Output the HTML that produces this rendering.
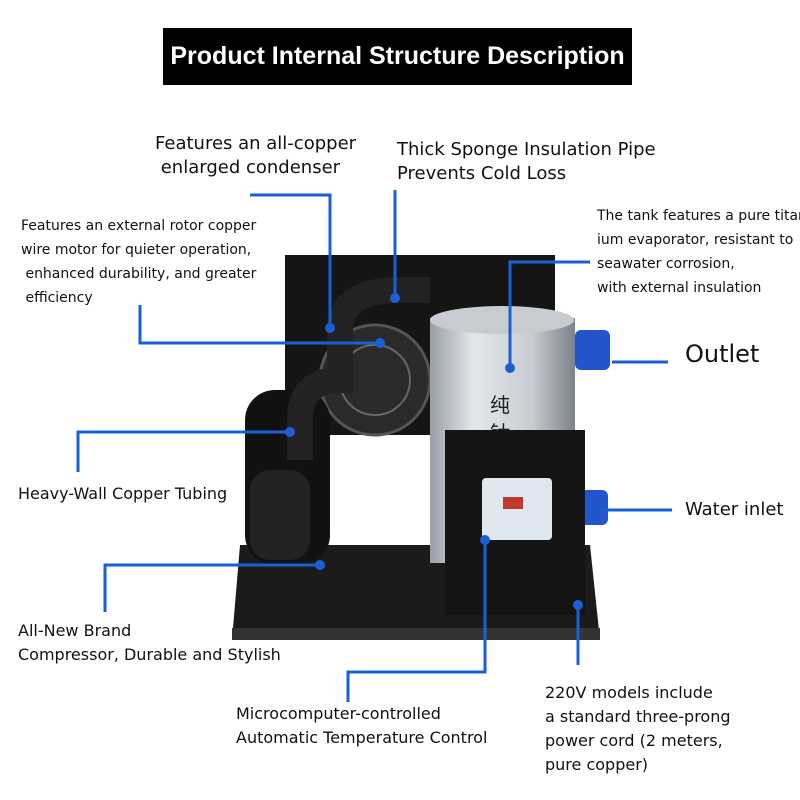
<!DOCTYPE html>
<html><head><meta charset="utf-8"><style>
body{margin:0;width:800px;height:800px;background:#fff;position:relative;overflow:hidden;font-family:"DejaVu Sans","Noto Sans CJK SC",sans-serif;}
.t{position:absolute;color:#111;white-space:nowrap}
svg{position:absolute;left:0;top:0}
</style></head><body>
<svg width="800" height="800" viewBox="0 0 800 800">
<defs>
<linearGradient id="tank" x1="0" x2="1"><stop offset="0" stop-color="#9aa0a8"/><stop offset="0.3" stop-color="#e4e7ea"/><stop offset="0.7" stop-color="#c9cdd2"/><stop offset="1" stop-color="#7c828a"/></linearGradient>
</defs>
<polygon points="240,545 590,545 600,640 232,640" fill="#1b1b1b"/>
<rect x="232" y="628" width="368" height="12" fill="#333"/>
<rect x="285" y="255" width="270" height="180" fill="#151515"/>
<circle cx="375" cy="380" r="55" fill="#2a2a2a" stroke="#555" stroke-width="3"/>
<circle cx="375" cy="380" r="35" fill="none" stroke="#666" stroke-width="2"/>
<rect x="245" y="390" width="85" height="175" rx="30" fill="#111"/>
<rect x="250" y="470" width="60" height="90" rx="20" fill="#222"/>
<path d="M300,460 L300,420 Q300,380 340,380 L340,330 Q340,290 400,290 L430,290" fill="none" stroke="#222" stroke-width="26"/>
<rect x="430" y="318" width="145" height="245" fill="url(#tank)"/>
<ellipse cx="502" cy="320" rx="72" ry="14" fill="#c8ccd0"/>
<text x="490" y="412" font-size="20" fill="#222">纯</text>
<text x="490" y="440" font-size="20" fill="#222">钛</text>
<rect x="575" y="330" width="35" height="40" rx="6" fill="#2255cc"/>
<rect x="578" y="490" width="30" height="35" rx="6" fill="#2255cc"/>
<rect x="445" y="430" width="140" height="185" fill="#141414"/>
<rect x="482" y="478" width="70" height="62" rx="4" fill="#dfe8f0"/>
<rect x="503" y="497" width="20" height="12" fill="#c0392b"/>
<g stroke="#1a5fd6" stroke-width="3" fill="none">
<polyline points="250,195 330,195 330,328"/>
<polyline points="395,190 395,298"/>
<polyline points="140,305 140,343 380,343"/>
<polyline points="590,262 510,262 510,368"/>
<polyline points="612,362 668,362"/>
<polyline points="600,510 672,510"/>
<polyline points="78,472 78,432 290,432"/>
<polyline points="105,612 105,565 320,565"/>
<polyline points="348,702 348,672 485,672 485,540"/>
<polyline points="578,665 578,605"/>
</g>
<g fill="#1a5fd6">
<circle cx="330" cy="328" r="5"/><circle cx="395" cy="298" r="5"/><circle cx="380" cy="343" r="5"/>
<circle cx="510" cy="368" r="5"/><circle cx="290" cy="432" r="5"/><circle cx="320" cy="565" r="5"/>
<circle cx="485" cy="540" r="5"/><circle cx="578" cy="605" r="5"/>
</g>
</svg>
<div style="position:absolute;left:163px;top:28px;width:469px;height:57px;background:#000;color:#fff;font-weight:bold;font-size:25px;line-height:57px;text-align:center;font-family:'Liberation Sans',sans-serif">Product Internal Structure Description</div>
<div class="t" style="left:155px;top:132px;font-size:18px;line-height:24px">Features an all-copper<br>&nbsp;enlarged condenser</div>
<div class="t" style="left:397px;top:138px;font-size:18px;line-height:24px">Thick Sponge Insulation Pipe<br>Prevents Cold Loss</div>
<div class="t" style="left:21px;top:214px;font-size:14px;line-height:24px">Features an external rotor copper<br>wire motor for quieter operation,<br>&nbsp;enhanced durability, and greater<br>&nbsp;efficiency</div>
<div class="t" style="left:597px;top:204px;font-size:14px;line-height:24px">The tank features a pure titan<br>ium evaporator, resistant to<br>seawater corrosion,<br>with external insulation</div>
<div class="t" style="left:685px;top:340px;font-size:24px">Outlet</div>
<div class="t" style="left:685px;top:499px;font-size:18px">Water inlet</div>
<div class="t" style="left:18px;top:484px;font-size:16px">Heavy-Wall Copper Tubing</div>
<div class="t" style="left:18px;top:619px;font-size:16px;line-height:24px">All-New Brand<br>Compressor, Durable and Stylish</div>
<div class="t" style="left:236px;top:702px;font-size:16px;line-height:24px">Microcomputer-controlled<br>Automatic Temperature Control</div>
<div class="t" style="left:545px;top:681px;font-size:16px;line-height:24px">220V models include<br>a standard three-prong<br>power cord (2 meters,<br>pure copper)</div>
</body></html>
